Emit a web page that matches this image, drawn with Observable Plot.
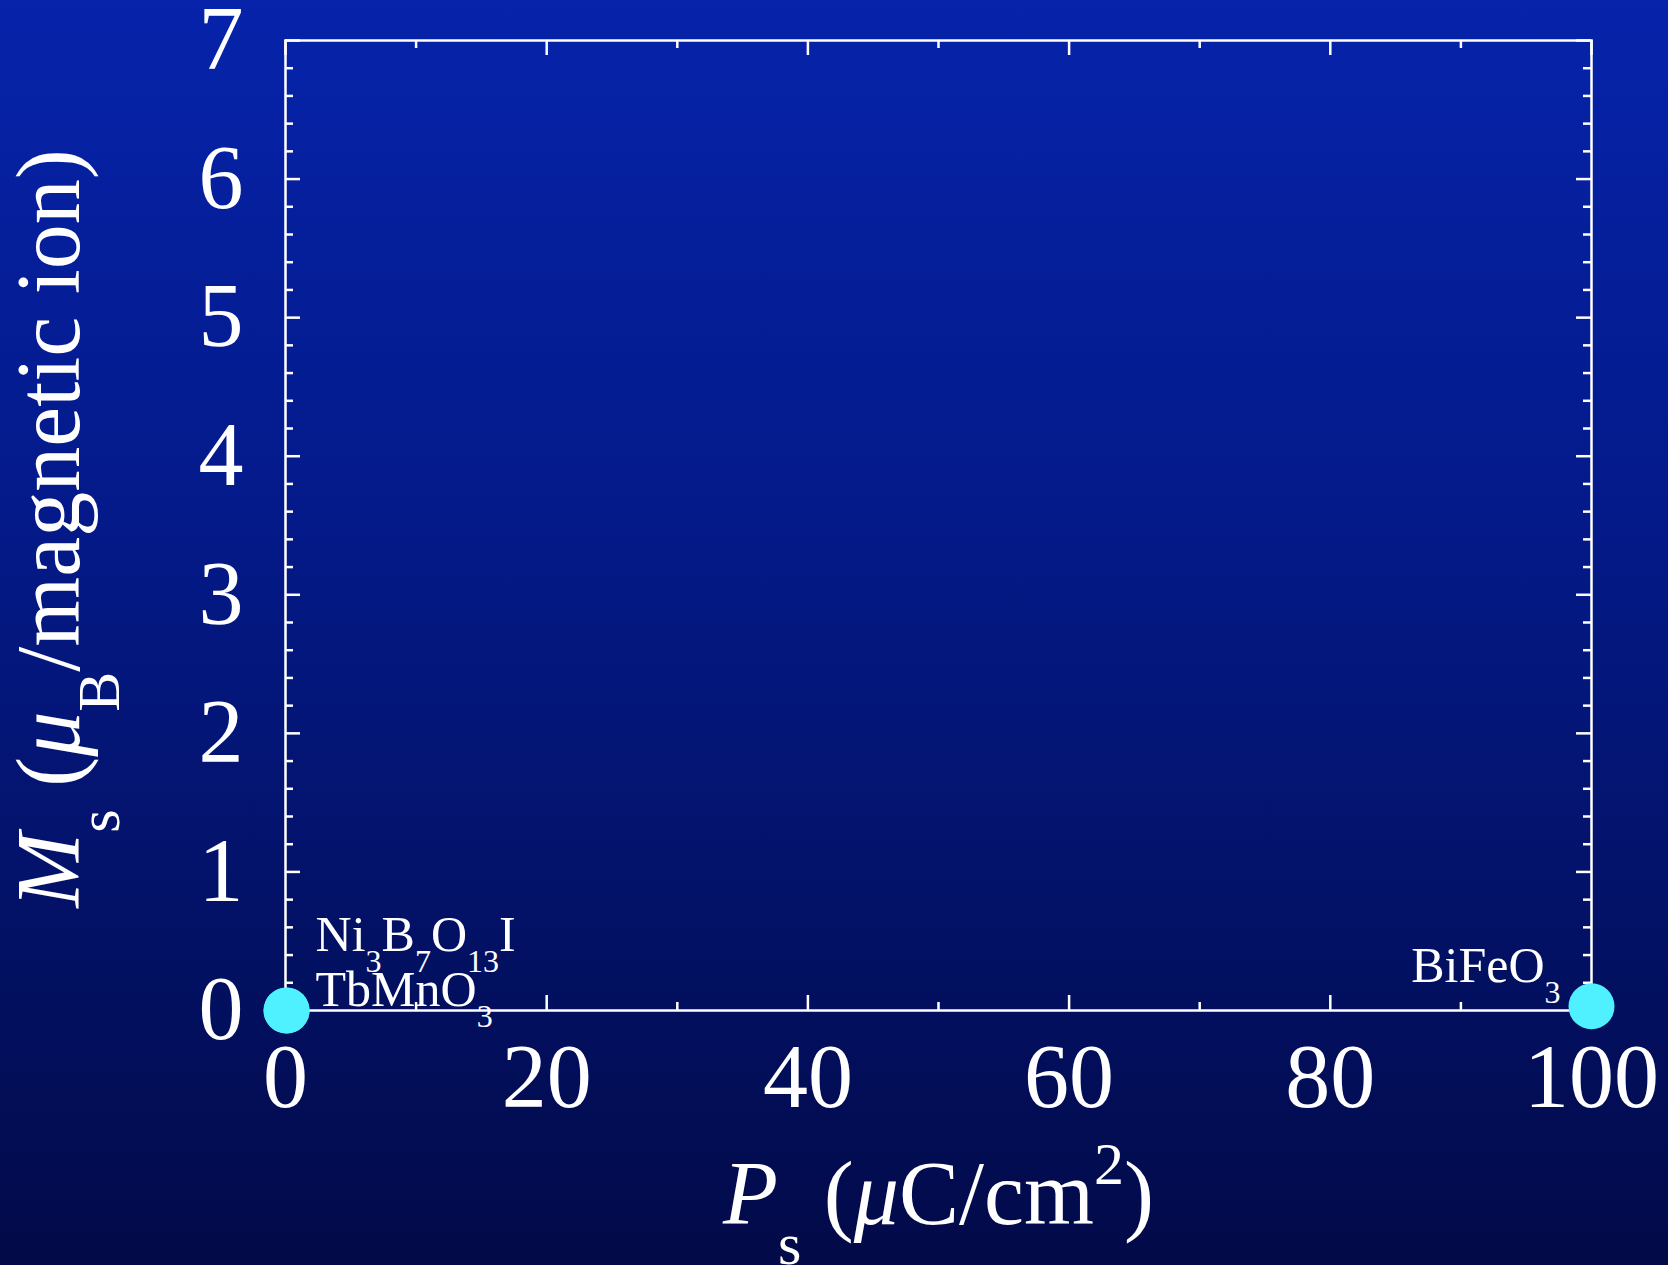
<!DOCTYPE html>
<html>
<head>
<meta charset="utf-8">
<script src="https://cdn.jsdelivr.net/npm/d3@7"></script>
<script src="https://cdn.jsdelivr.net/npm/@observablehq/plot@0.6"></script>
<style>
  html, body { margin: 0; padding: 0; background: #020a48; }
  svg text { white-space: pre; }
</style>
</head>
<body>
<div id="chart"></div>
<script>
// ---- data ----
const materials = ["Ni3B7O13I", "TbMnO3", "BiFeO3"];
const polarization = [0.08, 0.08, 100];   // Ps (µC/cm²)
const magnetization = [0, 0, 0.03];       // Ms (µB / magnetic ion)

// ---- ticks ----
const xMajorTicks = [0, 20, 40, 60, 80, 100];
const xMinorTicks = [10, 30, 50, 70, 90];
const yMajorTicks = [0, 1, 2, 3, 4, 5, 6, 7];
const yMinorTicks = [0.2, 0.4, 0.6, 0.8, 1.2, 1.4, 1.6, 1.8, 2.2, 2.4, 2.6, 2.8,
  3.2, 3.4, 3.6, 3.8, 4.2, 4.4, 4.6, 4.8, 5.2, 5.4, 5.6, 5.8, 6.2, 6.4, 6.6, 6.8];

// ---- rich text (sub/superscripts) ----
const xTitle = "Ps (μC/cm2)";
const yTitle = "Ms (μB/magnetic ion)";
const richText = {
  "Ps (μC/cm2)": [["P", "it"], ["s", "sub"], [" ("], ["μ", "it"], ["C/cm"], ["2", "sup"], [")"]],
  "Ms (μB/magnetic ion)": [["M", "it"], ["s", "sub"], [" ("], ["μ", "it"], ["B", "sub"], ["/magnetic ion)"]],
  "Ni3B7O13I": [["Ni"], ["3", "sub"], ["B"], ["7", "sub"], ["O"], ["13", "sub"], ["I"]],
  "TbMnO3": [["TbMnO"], ["3", "sub"]],
  "BiFeO3": [["BiFeO"], ["3", "sub"]]
};

const points = materials.map((m, i) => ({name: m, Ps: polarization[i], Ms: magnetization[i]}));

const W = 1668, H = 1265;
const mL = 285, mR = 77, mT = 40, mB = 255;
const fw = W - mL - mR, fh = H - mT - mB;
const font = "'Liberation Serif', 'Times New Roman', serif";
const white = "#ffffff";

const chart = Plot.plot({
  width: W,
  height: H,
  marginLeft: mL, marginRight: mR, marginTop: mT, marginBottom: mB,
  style: {
    background: "linear-gradient(to bottom, #0623aa 0%, #041a8a 40%, #020a48 100%)",
    fontFamily: font,
    color: white,
    overflow: "visible"
  },
  x: {domain: [0, 100], axis: null},
  y: {domain: [0, 7], axis: null},
  marks: [
    // inward ticks: bottom
    Plot.ruleX(xMajorTicks, {x: d => d, insetTop: fh - 15, stroke: white, strokeWidth: 2.5}),
    Plot.ruleX(xMinorTicks, {x: d => d, insetTop: fh - 8, stroke: white, strokeWidth: 2.5}),
    // top
    Plot.ruleX(xMajorTicks, {x: d => d, insetBottom: fh - 15, stroke: white, strokeWidth: 2.5}),
    Plot.ruleX(xMinorTicks, {x: d => d, insetBottom: fh - 8, stroke: white, strokeWidth: 2.5}),
    // left
    Plot.ruleY(yMajorTicks, {y: d => d, insetRight: fw - 15, stroke: white, strokeWidth: 2.5}),
    Plot.ruleY(yMinorTicks, {y: d => d, insetRight: fw - 8, stroke: white, strokeWidth: 2.5}),
    // right
    Plot.ruleY(yMajorTicks, {y: d => d, insetLeft: fw - 15, stroke: white, strokeWidth: 2.5}),
    Plot.ruleY(yMinorTicks, {y: d => d, insetLeft: fw - 8, stroke: white, strokeWidth: 2.5}),
    Plot.frame({stroke: white, strokeWidth: 2.5}),
    // tick labels
    Plot.text(xMajorTicks, {x: d => d, text: d => String(d), frameAnchor: "bottom", dy: 96,
      lineAnchor: "bottom", textAnchor: "middle", fontSize: 90, fill: white}),
    Plot.text(yMajorTicks, {y: d => d, text: d => String(d), frameAnchor: "left", dx: -42,
      lineAnchor: "middle", textAnchor: "end", fontSize: 90, fill: white}),
    // axis titles
    Plot.text([xTitle], {text: d => d, frameAnchor: "bottom", dy: 213, lineAnchor: "bottom",
      textAnchor: "middle", fontSize: 90, fill: white}),
    Plot.text([yTitle], {text: d => d, frameAnchor: "left", dx: -207, dy: 3, rotate: -90,
      lineAnchor: "bottom", textAnchor: "middle", fontSize: 90, fill: white}),
    // data points
    Plot.dot(points, {x: "Ps", y: "Ms", r: 23, fill: "#4ff0ff", stroke: "none"}),
    // point labels
    Plot.text(points.filter(d => d.name === "Ni3B7O13I"), {x: "Ps", y: "Ms", text: "name",
      dx: 29, dy: -60, lineAnchor: "bottom", textAnchor: "start", fontSize: 50, fill: white}),
    Plot.text(points.filter(d => d.name === "TbMnO3"), {x: "Ps", y: "Ms", text: "name",
      dx: 29, dy: -5, lineAnchor: "bottom", textAnchor: "start", fontSize: 50, fill: white}),
    Plot.text(points.filter(d => d.name === "BiFeO3"), {x: "Ps", y: "Ms", text: "name",
      dx: -31, dy: -24, lineAnchor: "bottom", textAnchor: "end", fontSize: 50, fill: white})
  ]
});

// convert plain strings into tspans with sub/superscripts
d3.select(chart).selectAll("text").each(function () {
  const key = this.textContent;
  const segs = richText[key];
  if (!segs) return;
  const base = parseFloat(this.getAttribute("font-size") || this.parentNode.getAttribute("font-size")) || 90;
  const small = base >= 80 ? 60 : 32;
  const shift = base >= 80 ? 40 : 21;
  const sel = d3.select(this);
  sel.text(null);
  let cur = 0;
  for (const [t, kind] of segs) {
    const target = kind === "sub" ? shift : kind === "sup" ? -shift : 0;
    const ts = sel.append("tspan").text(t);
    if (target !== cur) ts.attr("dy", target - cur);
    if (kind === "sub" || kind === "sup") ts.attr("font-size", small);
    if (kind === "it") ts.attr("font-style", "italic");
    cur = target;
  }
});

document.getElementById("chart").appendChild(chart);
</script>
</body>
</html>
